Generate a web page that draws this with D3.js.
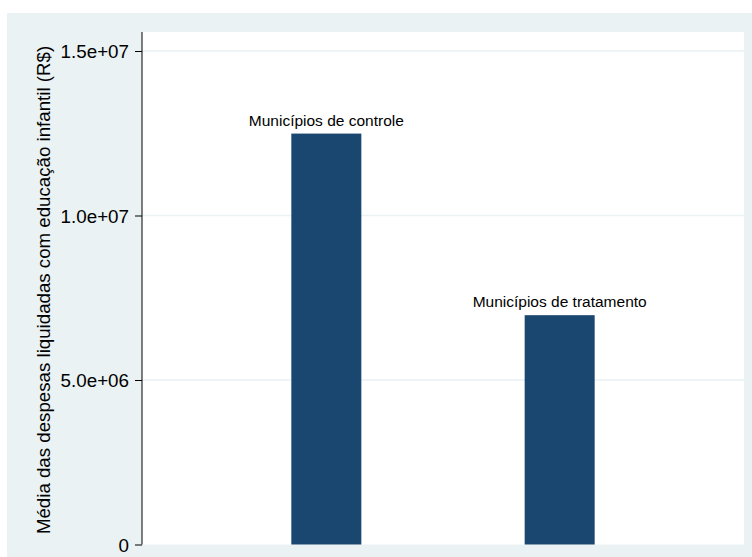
<!DOCTYPE html>
<html>
<head>
<meta charset="utf-8">
<script src="https://cdn.jsdelivr.net/npm/d3@7"></script>
<style>
  html, body { margin: 0; padding: 0; background: #ffffff; }
  svg { display: block; }
  text { font-family: "Liberation Sans", Arial, sans-serif; fill: #000; }
</style>
</head>
<body>
<div id="chart"></div>
<script>
// Mean spending on early-childhood education, by group of municipalities
const categories = ["Municípios de controle", "Municípios de tratamento"];
const values = [12490000, 6970000];
const tickValues = [0, 5000000, 10000000, 15000000];
const tickLabels = ["0", "5.0e+06", "1.0e+07", "1.5e+07"];
const yTitle = "Média das despesas liquidadas com educação infantil (R$)";

const W = 752, H = 557;
const frame = { x: 7, y: 13 };                          // outer graph region
const plot = { left: 142, right: 744, top: 32, bottom: 544.5 };

const svg = d3.select("#chart").append("svg")
  .attr("width", W).attr("height", H);

svg.append("rect")
  .attr("x", frame.x).attr("y", frame.y)
  .attr("width", W - frame.x).attr("height", H - frame.y)
  .attr("fill", "#eaf2f3");

svg.append("rect")
  .attr("x", plot.left).attr("y", plot.top)
  .attr("width", plot.right - plot.left).attr("height", plot.bottom - plot.top)
  .attr("fill", "#ffffff");

const y = d3.scaleLinear().domain([0, 15000000]).range([plot.bottom, 51]);
const x = d3.scaleBand().domain(categories)
  .range([plot.left, plot.right])
  .paddingInner(0.7).paddingOuter(0.64);

// horizontal grid lines
svg.append("g").selectAll("line")
  .data(tickValues.filter(d => d > 0))
  .join("line")
  .attr("x1", plot.left).attr("x2", plot.right)
  .attr("y1", d => y(d)).attr("y2", d => y(d))
  .attr("stroke", "#eaf2f3").attr("stroke-width", 1.3);

// bars
svg.append("g").selectAll("rect")
  .data(categories)
  .join("rect")
  .attr("x", d => x(d))
  .attr("width", x.bandwidth())
  .attr("y", (d, i) => y(values[i]))
  .attr("height", (d, i) => y(0) - y(values[i]))
  .attr("fill", "#1a476f");

// bar labels
svg.append("g").selectAll("text")
  .data(categories)
  .join("text")
  .attr("x", d => x(d) + x.bandwidth() / 2)
  .attr("y", (d, i) => y(values[i]) - 8)
  .attr("text-anchor", "middle")
  .style("font-size", "15.5px")
  .text(d => d);

// y axis
const axis = d3.axisLeft(y)
  .tickValues(tickValues)
  .tickFormat((d, i) => tickLabels[i])
  .tickSize(7).tickPadding(6);

const gAxis = svg.append("g")
  .attr("transform", `translate(${plot.left},0)`)
  .call(axis);
gAxis.select(".domain").remove();
gAxis.append("line")
  .attr("x1", 0).attr("x2", 0)
  .attr("y1", plot.top).attr("y2", plot.bottom)
  .attr("stroke", "#000").attr("stroke-width", 1);
gAxis.selectAll(".tick line").attr("stroke", "#000");
gAxis.selectAll(".tick text")
  .attr("fill", "#000")
  .attr("dy", "0.36em")
  .style("font-size", "18.8px")
  .style("font-family", "'Liberation Sans', Arial, sans-serif");

// axis title
svg.append("text")
  .attr("transform", `translate(50,290) rotate(-90)`)
  .attr("text-anchor", "middle")
  .style("font-size", "18.7px")
  .text(yTitle);
</script>
</body>
</html>
